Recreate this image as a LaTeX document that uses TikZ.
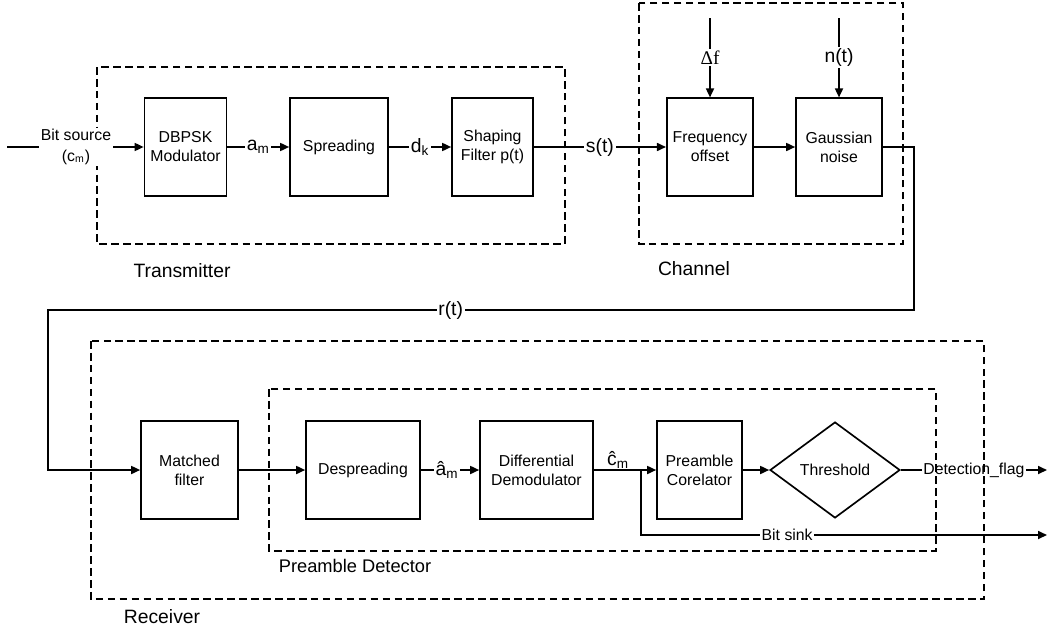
\documentclass[tikz,border=0pt]{standalone}
\usepackage{fontspec}
\setmainfont{Liberation Sans}
\newfontfamily\deltafont{Liberation Serif}
\usetikzlibrary{arrows.meta,shapes.geometric}

\tikzset{
    block/.style = {
        draw,
        line width=0.95pt,
        minimum height=1.95cm,
        align=center,
        font=\fontsize{9}{10.8}\selectfont
    },
    decision/.style = {
        draw,
        diamond,
        line width=0.95pt,
        minimum width=2.6cm,
        minimum height=1.92cm,
        inner sep=0pt,
        font=\fontsize{9}{10.8}\selectfont
    },
    group/.style = {
        line width=0.95pt,
        dash pattern=on 4.3pt off 2.5pt
    },
    link/.style = {
        line width=0.95pt,
        -{Triangle[length=1.8mm,width=1.6mm]}
    },
    signal/.style = {
        fill=white,
        inner sep=1pt,
        font=\fontsize{11}{13}\selectfont
    },
    note/.style = {
        fill=white,
        inner sep=1pt,
        font=\fontsize{9}{11.5}\selectfont
    },
    caption/.style = {
        font=\fontsize{11}{13}\selectfont
    }
}

\begin{document}
\begin{tikzpicture}[x=0.02cm, y=-0.02cm]
    \useasboundingbox (0,0) rectangle (1047,632);

    % Draw all blocks
    \node[block, minimum width=1.62cm] (dbpsk)    at (185.5,147) {DBPSK\\Modulator};
    \node[block, minimum width=1.96cm] (spread)   at (339,147)   {Spreading};
    \node[block, minimum width=1.62cm] (shaping)  at (492.5,147) {Shaping\\Filter p(t)};
    \node[block, minimum width=1.72cm] (freq)     at (710,147)   {Frequency\\offset};
    \node[block, minimum width=1.72cm] (gauss)    at (839,147)   {Gaussian\\noise};

    \node[block, minimum width=1.94cm] (matched)   at (189.5,470) {Matched\\filter};
    \node[block, minimum width=2.28cm] (despread)  at (363,470)   {Despreading};
    \node[block, minimum width=2.26cm] (diffdemod) at (536.5,470) {Differential\\Demodulator};
    \node[block, minimum width=1.70cm] (corel)     at (699.5,470) {Preamble\\Corelator};
    \node[decision] (thresh) at (835,470) {Threshold};

    % Free ends of the connectors
    \coordinate (srcin)   at (7,147);
    \coordinate (dfin)    at (710,18);
    \coordinate (noisein) at (839,18);
    \coordinate (rtturn)  at (914,310);
    \coordinate (rtback)  at (48,310);
    \coordinate (branch)  at (641,470);
    \coordinate (flagout) at (1047,470);
    \coordinate (sinkout) at (1047,535);

    % Draw arrows
    \draw[link] (dbpsk)   -- node[signal] {a\textsubscript{m}} (spread);
    \draw[link] (spread)  -- node[signal] {d\textsubscript{k}} (shaping);
    \draw[link] (shaping) -- node[signal] {s(t)} (freq);
    \draw[link] (dfin)    -- node[signal] {\deltafont Δf} (freq);
    \draw[link] (noisein) -- node[signal] {n(t)} (gauss);
    \draw[link] (freq)    -- (gauss);
    \draw[link] (gauss) -| (rtturn) -- node[signal, pos=0.535] {r(t)} (rtback) |- (matched);
    %
    \draw[link] (matched)   -- (despread);
    \draw[link] (despread)  -- node[signal, pos=0.45] {â\textsubscript{m}} (diffdemod);
    \draw[link] (diffdemod) -- node[signal, fill=none, above, inner sep=0.5pt, pos=0.39] {ĉ\textsubscript{m}} (corel);
    \draw[link] (corel)     -- (thresh);
    \draw[link] (thresh)    -- node[note] {Detection\_flag} (flagout);
    \draw[link] (branch)    |- node[note, pos=0.68] {Bit sink} (sinkout);

    % Draw dashed groups
    \draw[group] (97,67)   rectangle (565,244);
    \draw[group] (639,3)   rectangle (903,244);
    \draw[group] (91,341)  rectangle (984,599);
    \draw[group] (269,389) rectangle (936,551);

    % Bit source input
    \node[note, align=center] (bitsrc) at (76,147) {Bit source\\(c\textsubscript{m})};
    \draw[line width=0.95pt] (srcin) -- (bitsrc);
    \draw[link] (bitsrc) -- (dbpsk);

    % Draw captions
    \node[caption] (txlbl) at (182,271) {Transmitter};
    \node[caption] (chlbl) at (694,269) {Channel};
    \node[caption] (rxlbl) at (162,617) {Receiver};
    \node[caption, font=\fontsize{10.4}{12}\selectfont] (pdlbl) at (355,566) {Preamble Detector};
\end{tikzpicture}
\end{document}
